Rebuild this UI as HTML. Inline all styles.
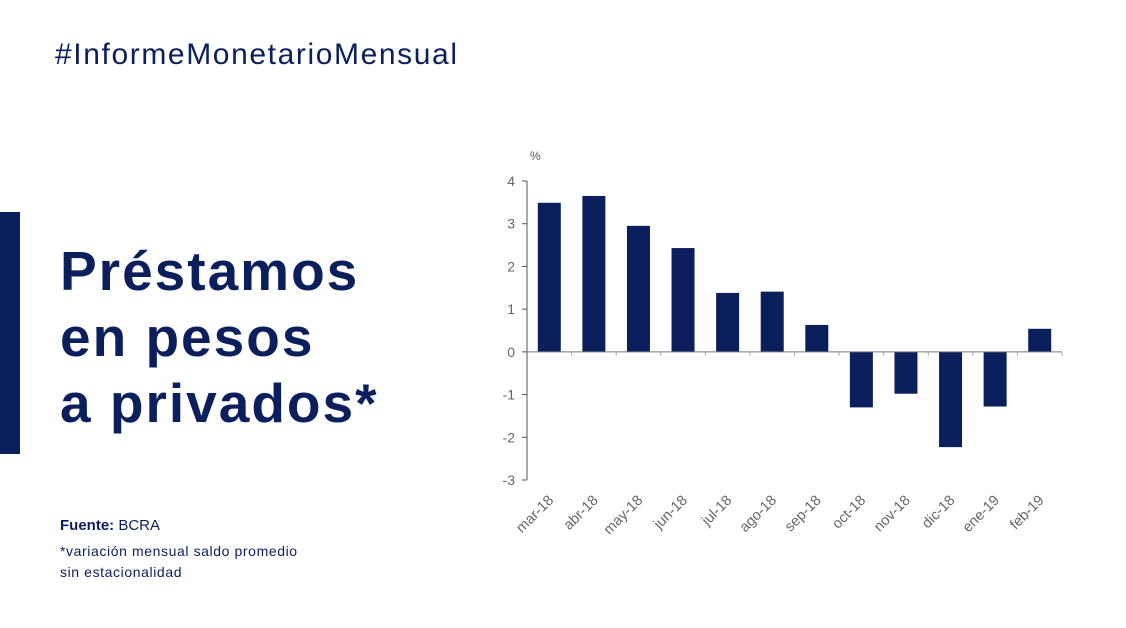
<!DOCTYPE html>
<html><head><meta charset="utf-8"><style>
body{margin:0;width:1126px;height:628px;background:#fff;overflow:hidden;font-family:"Liberation Sans",sans-serif;color:#0a1f5c;position:relative}
.abs{position:absolute}
</style></head><body>
<div class="abs" style="left:55px;top:38px;font-size:30px;font-weight:300;letter-spacing:1.6px">#InformeMonetarioMensual</div>
<div class="abs" style="left:0;top:212px;width:20px;height:242px;background:#0a1f5c"></div>
<div class="abs" style="left:60px;top:238px;font-size:55px;font-weight:bold;line-height:66px;letter-spacing:2px">Préstamos<br>en pesos<br>a privados*</div>
<div class="abs" style="left:60px;top:517px;font-size:15px"><b>Fuente:</b> BCRA</div>
<div class="abs" style="left:60px;top:541px;font-size:14px;line-height:21px;letter-spacing:0.6px">*variación mensual saldo promedio<br>sin estacionalidad</div>
<svg class="abs" style="left:0;top:0" width="1126" height="628">
<g id="chart"></g>
</svg>
<script>
const categories=["mar-18","abr-18","may-18","jun-18","jul-18","ago-18","sep-18","oct-18","nov-18","dic-18","ene-19","feb-19"];
const values=[3.49,3.65,2.95,2.43,1.38,1.41,0.63,-1.30,-0.98,-2.23,-1.28,0.54];
const yTicks=[4,3,2,1,0,-1,-2,-3];
const NS="http://www.w3.org/2000/svg";
const g=document.getElementById('chart');
const x0=527,x1=1062,yTop=181,yBot=480,vMax=4,vMin=-3;
const band=(x1-x0)/categories.length;
const y=v=>yTop+(vMax-v)*(yBot-yTop)/(vMax-vMin);
const xc=i=>x0+band*(i+0.5);
function mk(t,a){const e=document.createElementNS(NS,t);for(const k in a)e.setAttribute(k,a[k]);g.appendChild(e);return e;}
const pl=mk('text',{x:530,y:160,'font-size':12,fill:'#555'});pl.textContent='%';


values.forEach((v,i)=>{
 const r=mk('rect',{x:xc(i)-11.5,y:Math.min(y(v),y(0)),width:23,height:Math.abs(y(v)-y(0)),fill:'#0a1f5c'});
 
 
});
const ya=mk('line',{x1:x0,x2:x0,y1:yTop,y2:yBot,stroke:'#555','stroke-width':1});


yTicks.forEach(t=>{
 mk('line',{x1:x0-5,x2:x0,y1:y(t),y2:y(t),stroke:'#555'});
 const tx=mk('text',{x:x0-12,y:y(t)+5,'font-size':14,fill:'#666','text-anchor':'end'});tx.textContent=t;
 
 
});
const xa=mk('line',{x1:x0,x2:x1,y1:y(0),y2:y(0),stroke:'#777','stroke-width':1});


categories.forEach((c,i)=>{
 mk('line',{x1:x0+band*(i+1),x2:x0+band*(i+1),y1:y(0),y2:y(0)+4,stroke:'#aaa'});
 const X=xc(i)+5,Y=yBot+21;
 const tx=mk('text',{x:X,y:Y,'font-size':14.5,fill:'#666','text-anchor':'end',transform:`rotate(-45 ${X} ${Y})`});tx.textContent=c;
 
 
});
</script>
</body></html>
